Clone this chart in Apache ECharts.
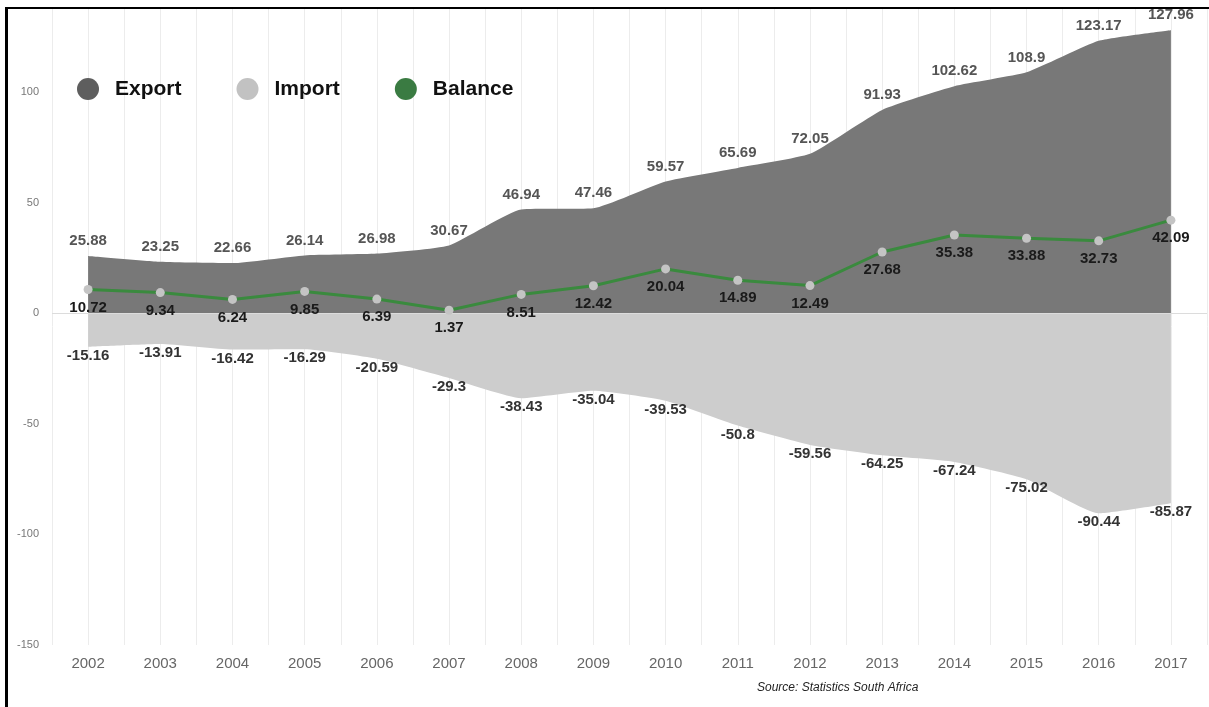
<!DOCTYPE html>
<html>
<head>
<meta charset="utf-8">
<script src="https://cdn.jsdelivr.net/npm/echarts@6/dist/echarts.min.js"></script>
<style>
html,body{margin:0;padding:0;background:#fff;}
#frame{position:absolute;left:5px;top:7px;width:1204px;height:700px;border-left:3px solid #000;border-top:2px solid #000;box-sizing:border-box;pointer-events:none;z-index:5;}
#chart{position:absolute;left:0;top:0;width:1209px;height:707px;}
</style>
</head>
<body>
<div id="chart"></div>
<div id="frame"></div>
<script>
const years = ['2002','2003','2004','2005','2006','2007','2008','2009','2010','2011','2012','2013','2014','2015','2016','2017'];
const exportVals = [25.88, 23.25, 22.66, 26.14, 26.98, 30.67, 46.94, 47.46, 59.57, 65.69, 72.05, 91.93, 102.62, 108.9, 123.17, 127.96];
const importVals = [-15.16, -13.91, -16.42, -16.29, -20.59, -29.3, -38.43, -35.04, -39.53, -50.8, -59.56, -64.25, -67.24, -75.02, -90.44, -85.87];
const balanceVals = [10.72, 9.34, 6.24, 9.85, 6.39, 1.37, 8.51, 12.42, 20.04, 14.89, 12.49, 27.68, 35.38, 33.88, 32.73, 42.09];
const yTicks = [-150, -100, -50, 0, 50, 100];

const chart = echarts.init(document.getElementById('chart'));
const font = '"Liberation Sans", Arial, sans-serif';
chart.setOption({
  animation: false,
  textStyle: {fontFamily: font},
  grid: {left: 52, right: 2, top: 8, bottom: 62},
  legend: {
    left: 72, top: 73,
    itemWidth: 22, itemHeight: 22, itemGap: 55,
    icon: 'circle',
    textStyle: {fontSize: 21, fontWeight: 'bold', color: '#111', fontFamily: font, padding: [0, 0, 0, 11]},
    data: [
      {name: 'Export', itemStyle: {color: '#5e5e5e'}},
      {name: 'Import', itemStyle: {color: '#c2c2c2'}},
      {name: 'Balance', itemStyle: {color: '#3a7b42'}}
    ]
  },
  xAxis: [
    {
      type: 'category', data: years, boundaryGap: true, position: 'bottom',
      axisLine: {show: false}, axisTick: {show: false}, splitLine: {show: false},
      axisLabel: {color: '#666', fontSize: 15, margin: 11, fontFamily: font}
    },
    {
      type: 'value', min: 0, max: 32, interval: 1, position: 'bottom',
      axisLine: {show: false}, axisTick: {show: false}, axisLabel: {show: false},
      splitLine: {show: true, lineStyle: {color: '#ececec', width: 1}}
    }
  ],
  yAxis: {
    type: 'value', min: -150, max: 138, interval: 50,
    axisLine: {show: false}, axisTick: {show: false}, splitLine: {show: false},
    axisLabel: {
      color: '#777', fontSize: 11, margin: 13, fontFamily: font,
      formatter: v => yTicks.includes(v) ? String(v) : ''
    }
  },
  series: [
    {
      name: 'Export', type: 'line', data: exportVals, smooth: 0.15,
      symbol: 'circle', symbolSize: 1, showSymbol: true,
      itemStyle: {color: 'rgba(0,0,0,0)'},
      lineStyle: {width: 0},
      areaStyle: {color: '#787878', opacity: 1},
      label: {show: true, position: 'top', distance: 7, color: '#555', fontSize: 15, fontWeight: 'bold', fontFamily: font},
      z: 2
    },
    {
      name: 'Import', type: 'line', data: importVals, smooth: 0.15,
      symbol: 'circle', symbolSize: 1, showSymbol: true,
      itemStyle: {color: 'rgba(0,0,0,0)'},
      lineStyle: {width: 0},
      areaStyle: {color: '#cdcdcd', opacity: 1},
      label: {show: true, position: 'bottom', distance: 1, color: '#333', fontSize: 15, fontWeight: 'bold', fontFamily: font},
      markLine: {
        silent: true, symbol: 'none', label: {show: false}, z: 3,
        lineStyle: {color: '#dcdcdc', width: 1, type: 'solid'},
        data: [{yAxis: 0}]
      },
      z: 2
    },
    {
      name: 'Balance', type: 'line', data: balanceVals,
      symbol: 'circle', symbolSize: 9, showSymbol: true,
      itemStyle: {color: '#c4c4c4'},
      lineStyle: {color: '#3a8a3e', width: 3},
      label: {show: true, position: 'bottom', distance: 6, color: '#1a1a1a', fontSize: 15, fontWeight: 'bold', fontFamily: font},
      z: 6
    }
  ],
  graphic: [
    {type: 'text', left: 757, top: 682, style: {text: 'Source: Statistics South Africa', font: 'italic 12px "Liberation Sans", Arial, sans-serif', fill: '#222'}}
  ]
});
</script>
</body>
</html>
